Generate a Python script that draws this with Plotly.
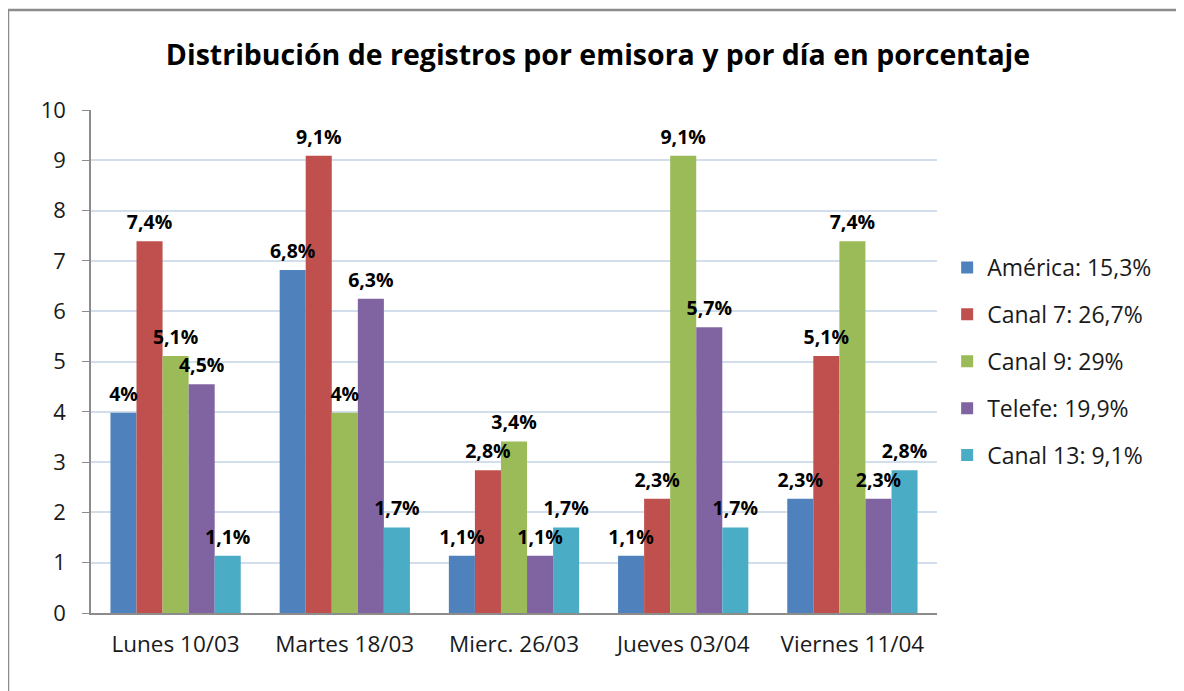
import plotly.graph_objects as go

categories = ["Lunes 10/03", "Martes 18/03", "Mierc. 26/03", "Jueves 03/04", "Viernes 11/04"]
series_names = ["América: 15,3%", "Canal 7: 26,7%", "Canal 9: 29%", "Telefe: 19,9%", "Canal 13: 9,1%"]
america = [3.98, 6.82, 1.14, 1.14, 2.27]
canal7 = [7.39, 9.09, 2.84, 2.27, 5.11]
canal9 = [5.11, 3.98, 3.41, 9.09, 7.39]
telefe = [4.55, 6.25, 1.14, 5.68, 2.27]
canal13 = [1.14, 1.70, 1.70, 1.70, 2.84]
america_lbl = ["4%", "6,8%", "1,1%", "1,1%", "2,3%"]
canal7_lbl = ["7,4%", "9,1%", "2,8%", "2,3%", "5,1%"]
canal9_lbl = ["5,1%", "4%", "3,4%", "9,1%", "7,4%"]
telefe_lbl = ["4,5%", "6,3%", "1,1%", "5,7%", "2,3%"]
canal13_lbl = ["1,1%", "1,7%", "1,7%", "1,7%", "2,8%"]
colors = ["#4F81BD", "#C0504D", "#9BBB59", "#8064A2", "#4BACC6"]

values = [america, canal7, canal9, telefe, canal13]
labels = [america_lbl, canal7_lbl, canal9_lbl, telefe_lbl, canal13_lbl]

FONT = "Open Sans, sans-serif"

# The page body has an 8px default margin, so the figure is laid out 8px smaller
W, H = 1176, 683
L, T = 83, 102
PW, PH = 846, 503

fig = go.Figure()
for i, (name, vals, lbls) in enumerate(zip(series_names, values, labels)):
    fig.add_trace(go.Bar(
        x=categories, y=vals, name=name,
        marker=dict(color=colors[i], line=dict(width=0)),
        legendgroup=str(i), offsetgroup=str(i),
    ))
for i, (name, vals, lbls) in enumerate(zip(series_names, values, labels)):
    fig.add_trace(go.Scatter(
        x=categories, y=vals, text=lbls, mode="markers+text",
        textposition="top center", cliponaxis=False, showlegend=False,
        hoverinfo="skip", offsetgroup=str(i),
        marker=dict(size=10, color="rgba(0,0,0,0)"),
        textfont=dict(family=FONT, size=19.5, color="#000000", weight="bold"),
    ))

fig.update_layout(
    width=W, height=H,
    paper_bgcolor="white", plot_bgcolor="white",
    margin=dict(l=L, r=W - L - PW, t=T, b=H - T - PH),
    barmode="group", scattermode="group",
    bargap=0.23, bargroupgap=0, scattergap=0.23,
    title=dict(text="<b>Distribución de registros por emisora y por día en porcentaje</b>",
               x=590 / W, xanchor="center", y=1 - 47 / H, yanchor="middle",
               font=dict(family=FONT, size=28.5, color="#000000")),
    font=dict(family=FONT, size=23, color="#1a1a1a"),
    legend=dict(x=1.012, y=0.5, xanchor="left", yanchor="middle",
                font=dict(family=FONT, size=23, color="#1a1a1a"),
                tracegroupgap=14, itemwidth=30, bgcolor="rgba(0,0,0,0)"),
    shapes=[dict(type="rect", xref="paper", yref="paper",
                 x0=-L / PW, x1=1.5, y0=-0.5, y1=1 + (T - 2) / PH,
                 line=dict(color="#8c8c8c", width=2.5), layer="below")],
)
fig.update_yaxes(range=[0, 10], dtick=1, showgrid=True, gridcolor="#d3deed", gridwidth=1.5,
                 showline=True, linecolor="#8c8c8c", linewidth=1.5,
                 ticks="outside", ticklen=7, tickcolor="#8c8c8c", ticklabelstandoff=12,
                 tickfont=dict(family=FONT, size=22, color="#1a1a1a"), zeroline=False)
fig.update_xaxes(showline=True, linecolor="#8c8c8c", linewidth=1.5, ticks="",
                 ticklabelstandoff=10,
                 tickfont=dict(family=FONT, size=22.5, color="#1a1a1a"))

fig.write_html("out.html")
